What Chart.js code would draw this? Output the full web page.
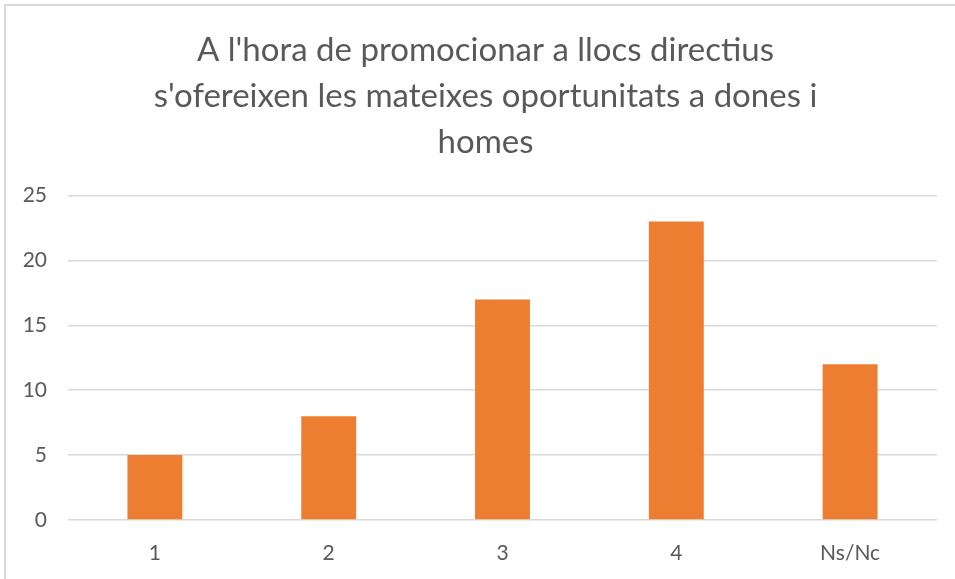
<!DOCTYPE html>
<html>
<head>
<meta charset="utf-8">
<script src="https://cdn.jsdelivr.net/npm/chart.js@4"></script>
<style>
  html, body { margin: 0; padding: 0; background: #fff; overflow: hidden; }
  #frame { position: absolute; left: 4px; top: 4px; width: 960px; height: 590px; border: 2px solid #d9d9d9; box-sizing: border-box; }
  #wrap { position: absolute; left: 0; top: 0; width: 955px; height: 579px; }
</style>
</head>
<body>
<div id="frame"></div>
<div id="wrap"><canvas id="chart" width="955" height="579"></canvas></div>
<script>
const titleLines = [
  "A l'hora de promocionar a llocs directius",
  "s'ofereixen les mateixes oportunitats a dones i",
  'homes',
];
const categories = ['1', '2', '3', '4', 'Ns/Nc'];
const responses = [5, 8, 17, 23, 12];

const textColor = '#595959';
const gridColor = '#d9d9d9';
const fontFamily = 'Lato, "Open Sans", sans-serif';

// the original title sits a little right of the plot centre
const titleShift = {
  id: 'titleShift',
  afterLayout(chart) {
    chart.titleBlock.left += 17;
    chart.titleBlock.right += 17;
  },
};

new Chart(document.getElementById('chart').getContext('2d'), {
  type: 'bar',
  data: {
    labels: categories,
    datasets: [{
      data: responses,
      backgroundColor: '#ED7D31',
      borderWidth: 0,
      categoryPercentage: 1,
      barPercentage: 0.316,
    }],
  },
  plugins: [titleShift],
  options: {
    responsive: false,
    animation: false,
    layout: { padding: { left: 0, right: 18, top: 0, bottom: 0 } },
    plugins: {
      legend: { display: false },
      tooltip: { enabled: false },
      title: {
        display: true,
        text: titleLines,
        color: textColor,
        font: { family: fontFamily, size: 33, weight: 'normal', lineHeight: 1.4 },
        padding: { top: 27, bottom: 30 },
      },
    },
    scales: {
      x: {
        grid: { display: false, drawTicks: false },
        border: { display: false },
        ticks: { color: textColor, font: { family: fontFamily, size: 21 }, padding: 21 },
        afterFit: (scale) => { scale.height = 59; },
      },
      y: {
        min: 0,
        max: 25,
        ticks: { stepSize: 5, color: textColor, font: { family: fontFamily, size: 21 }, padding: 21 },
        grid: { color: gridColor, lineWidth: 1.5, drawTicks: false },
        border: { display: false },
        afterFit: (scale) => { scale.width = 68; },
      },
    },
  },
});
</script>
</body>
</html>
